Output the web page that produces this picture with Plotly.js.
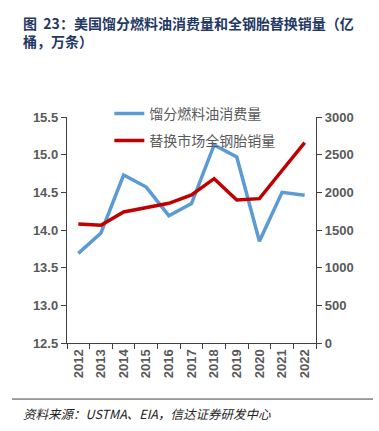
<!DOCTYPE html>
<html><head><meta charset="utf-8">
<script src="https://cdn.plot.ly/plotly-3.0.1.min.js"></script>
<style>html,body{margin:0;padding:0;background:#fff}#c{width:379px;height:431px}</style>
</head><body><div id="c"></div>
<script>
const years = ['2012','2013','2014','2015','2016','2017','2018','2019','2020','2021','2022'];
const fuelOil = [13.69,13.96,14.73,14.57,14.19,14.35,15.13,14.97,13.85,14.50,14.46];
const tireSales = [1580,1562,1739,1792,1854,1965,2181,1898,1916,2290,2659];
const leftTicks = [12.5,13.0,13.5,14.0,14.5,15.0,15.5];
const rightTicks = [0,500,1000,1500,2000,2500,3000];

const cjk = '"Noto Sans CJK SC", "Liberation Sans", sans-serif';
const num = '"Liberation Sans", Arial, sans-serif';
const gray = '#595959';

const traces = [
  {x: years, y: fuelOil, type:'scatter', mode:'lines', name:'馏分燃料油消费量',
   line:{color:'#5B9BD5', width:3.5}, legendgroup:'a', yaxis:'y'},
  {x: years, y: tireSales, type:'scatter', mode:'lines', name:'替换市场全钢胎销量',
   line:{color:'#C00000', width:3.5}, legendgroup:'b', yaxis:'y2'}
];

const layout = {
  width:379, height:431,
  margin:{l:67, r:63, t:117, b:88},
  paper_bgcolor:'#fff', plot_bgcolor:'#fff',
  showlegend:true,
  legend:{x:0.17, y:1.085, xanchor:'left', yanchor:'top', bgcolor:'rgba(0,0,0,0)',
    font:{family:cjk, size:14, color:gray}, tracegroupgap:6, traceorder:'grouped',
    itemwidth:30},
  xaxis:{type:'category', range:[-0.5,10.5], showgrid:false, zeroline:false,
    showline:true, linecolor:'#404040', linewidth:1.2,
    ticks:'outside', ticklen:5, tickcolor:'#404040', tickson:'boundaries',
    tickangle:-90, tickfont:{family:num, size:13, color:gray, weight:'bold'}},
  yaxis:{range:[12.5,15.5], tickvals:leftTicks, ticktext:leftTicks.map(v=>v.toFixed(1)),
    showgrid:false, zeroline:false, showline:true, linecolor:'#404040', linewidth:1.2,
    ticks:'outside', ticklen:5, tickcolor:'#404040',
    tickfont:{family:num, size:13, color:gray, weight:'bold'}},
  yaxis2:{range:[0,3000], tickvals:rightTicks, overlaying:'y', side:'right',
    showgrid:false, zeroline:false, showline:true, linecolor:'#404040', linewidth:1.2,
    ticks:'outside', ticklen:5, tickcolor:'#404040',
    tickfont:{family:num, size:13, color:gray, weight:'bold'}},
  annotations:[
    {xref:'paper', yref:'paper', x:-0.185, y:1.47, xanchor:'left', yanchor:'top', align:'left',
     showarrow:false, text:'<b>图  23：美国馏分燃料油消费量和全钢胎替换销量（亿<br>桶，万条）</b>',
     font:{family:cjk, size:14, color:'#1F3864'}},
    {xref:'paper', yref:'paper', x:-0.185, y:-0.26, xanchor:'left', yanchor:'top', align:'left',
     showarrow:false, text:'<i>资料来源：USTMA、EIA，信达证券研发中心</i>',
     font:{family:cjk, size:12.5, color:'#222'}}
  ],
  shapes:[
    {type:'line', xref:'paper', yref:'paper', x0:-0.221, x1:1.229, y0:-0.248, y1:-0.248,
     line:{color:'#404040', width:1}}
  ]
};
Plotly.newPlot('c', traces, layout, {displayModeBar:false, staticPlot:true});
</script></body></html>
